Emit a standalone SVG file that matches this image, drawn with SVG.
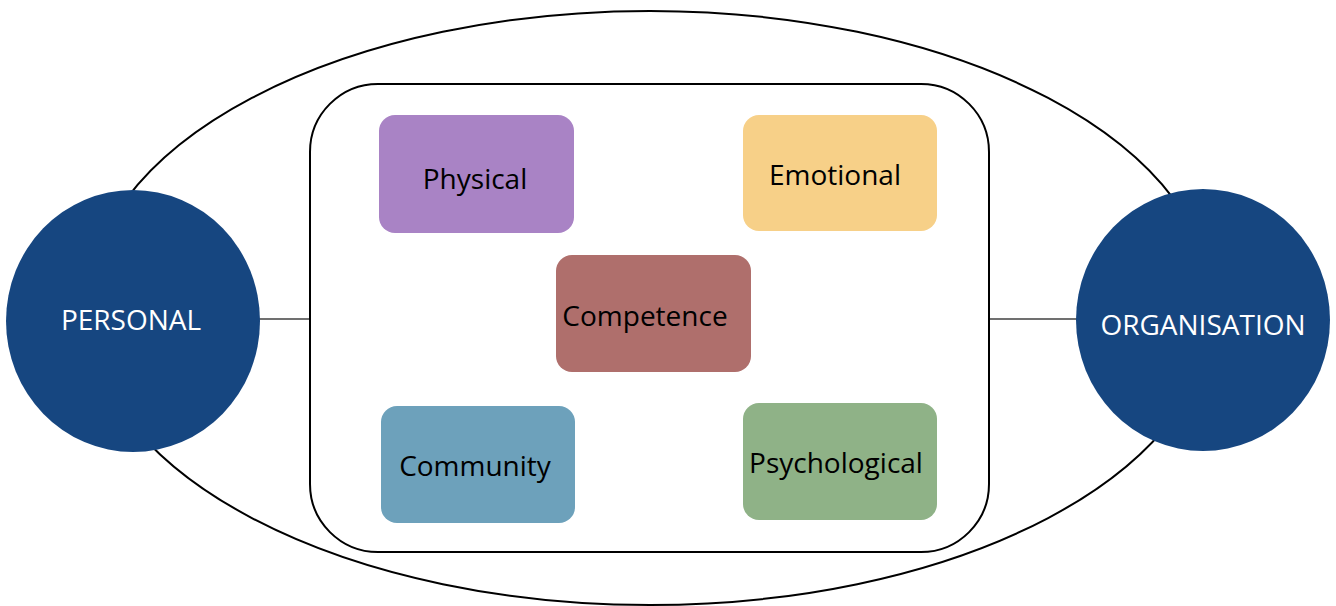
<svg xmlns="http://www.w3.org/2000/svg" width="1336" height="606" viewBox="0 0 1336 606">
  <style>
    .outline { fill: #ffffff; stroke: #000000; stroke-width: 2; }
    .link { stroke: #404040; stroke-width: 1.5; fill: none; }
    .hub { fill: #164680; }
    .hub-label { font-family: "Open Sans", "Noto Sans", sans-serif; font-size: 28px; fill: #ffffff; text-anchor: middle; }
    .box-label { font-family: "Open Sans", "Noto Sans", sans-serif; font-size: 28px; fill: #000000; text-anchor: middle; }
  </style>

  <!-- outer boundary -->
  <ellipse id="outer" class="outline" cx="650" cy="308" rx="563" ry="297"/>

  <!-- connectors -->
  <g id="connectors">
    <line class="link" x1="255" y1="319" x2="311" y2="319"/>
    <line class="link" x1="988" y1="319" x2="1080" y2="319"/>
  </g>

  <!-- inner container -->
  <rect id="container" class="outline" x="310" y="84" width="679" height="468" rx="68" ry="68"/>

  <g id="personal">
    <ellipse class="hub" cx="133" cy="321" rx="127" ry="131"/>
    <text class="hub-label" x="131" y="330">PERSONAL</text>
  </g>

  <g id="organisation">
    <ellipse class="hub" cx="1203" cy="320" rx="127" ry="131"/>
    <text class="hub-label" x="1203" y="335">ORGANISATION</text>
  </g>

  <g id="physical">
    <rect x="379" y="115" width="195" height="118" rx="16" fill="#A983C5"/>
    <text class="box-label" x="475" y="189">Physical</text>
  </g>

  <g id="emotional">
    <rect x="743" y="115" width="194" height="116" rx="16" fill="#F7D088"/>
    <text class="box-label" x="835" y="185">Emotional</text>
  </g>

  <g id="competence">
    <rect x="556" y="255" width="195" height="117" rx="16" fill="#AF6F6C"/>
    <text class="box-label" x="645" y="326">Competence</text>
  </g>

  <g id="community">
    <rect x="381" y="406" width="194" height="117" rx="16" fill="#6DA1BB"/>
    <text class="box-label" x="475" y="476">Community</text>
  </g>

  <g id="psychological">
    <rect x="743" y="403" width="194" height="117" rx="16" fill="#8FB287"/>
    <text class="box-label" x="836" y="473">Psychological</text>
  </g>
</svg>
